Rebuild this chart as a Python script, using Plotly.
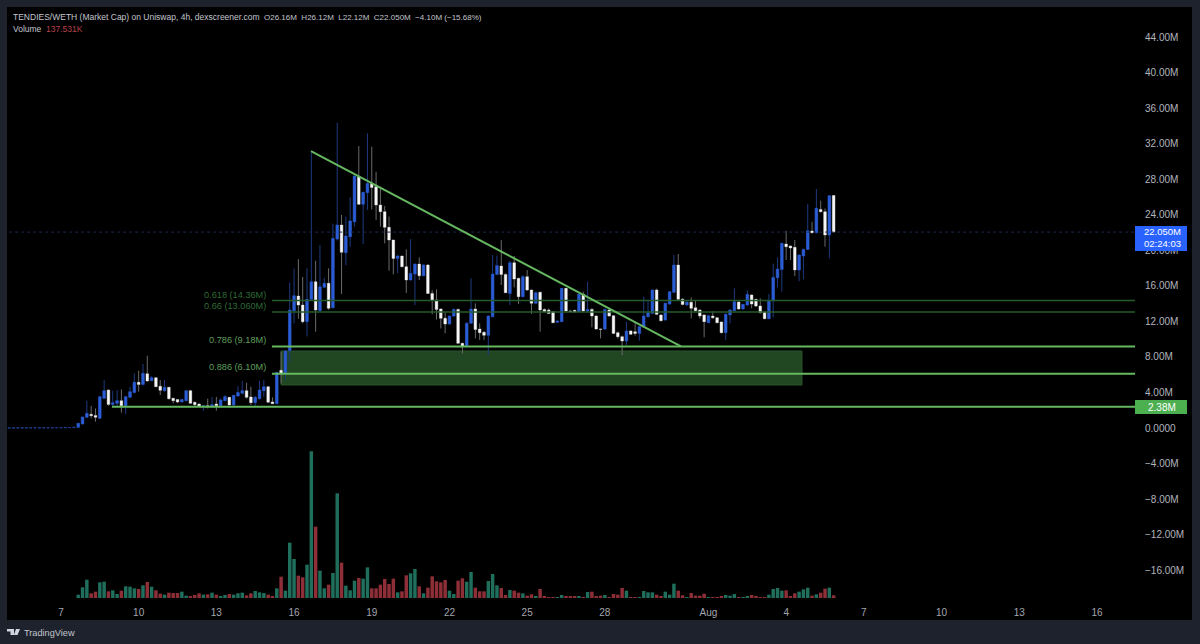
import pandas as pd
import plotly.graph_objects as go

# 4h candles in millions of market cap, Jul 5 00:00 onward
opens = [
    .02, .02, .02, .02, .02, .03, .03, .03, .03, .03, .03, .04, .04, .04, .05, .05,
    .08, .45, 1.2, 1.54, 1.42, 1.09, 3.34, 4.28, 2.66, 2.78, 3.08, 2.5, 3.45, 4.0, 5.14, 4.9,
    6.1, 5.33, 5.66, 4.7, 4.2, 4.58, 3.34, 3.2, 2.93, 3.08, 4.2, 2.9, 2.7, 2.4, 2.5, 2.48,
    2.7, 2.5, 3.08, 3.45, 2.6, 3.6, 3.9, 4.2, 3.5, 2.85, 3.3, 4.2, 4.65, 2.93, 2.74, 6.5,
    6.15, 8.7, 13.2, 14.85, 13.84, 11.97, 14.48, 16.47, 13.2, 15.83, 16.28, 13.54, 21.27, 22.84, 19.73, 21.53,
    23.2, 28.28, 25.17, 26.48, 27.53, 27.16, 25.09, 24.34, 22.58, 21.15, 19.09, 19.35, 18.15, 16.65, 17.33, 18.45,
    17.14, 18.34, 15.15, 14.4, 13.39, 12.34, 11.7, 12.6, 13.35, 9.53, 9.15, 11.78, 13.39, 11.14, 10.77, 10.43,
    12.53, 17.29, 18.23, 17.29, 15.15, 18.6, 16.84, 14.78, 17.03, 15.53, 14.03, 15.27, 13.35, 13.28, 13.09, 11.89,
    11.97, 15.72, 13.17, 13.24, 13.09, 15.04, 13.17, 13.35, 12.6, 11.14, 11.14, 13.28, 12.64, 10.73, 10.28, 9.79,
    10.92, 10.84, 10.65, 11.4, 12.53, 12.9, 15.53, 12.72, 12.15, 13.95, 15.27, 18.34, 14.5, 13.84, 14.14, 13.54,
    13.28, 12.72, 11.85, 12.6, 12.42, 11.93, 10.73, 12.72, 13.2, 14.18, 13.39, 13.84, 14.97, 14.48, 13.73, 13.05,
    12.3, 14.33, 16.92, 17.85, 20.7, 20.48, 20.33, 17.78, 19.35, 20.1, 22.17, 21.98, 24.6, 24.34, 21.72, 26.16,
]
highs = [
    .03, .03, .03, .03, .03, .04, .04, .04, .04, .04, .05, .05, .05, .06, .06, .09,
    .55, 1.26, 3.08, 2.5, 2.2, 3.6, 5.4, 4.3, 4.2, 4.28, 4.35, 3.6, 4.65, 6.15, 6.45, 7.2,
    8.14, 5.85, 5.7, 5.4, 5.4, 4.6, 3.4, 3.25, 3.25, 4.28, 4.3, 2.95, 2.75, 2.55, 3.3, 3.5,
    3.5, 3.34, 3.7, 3.5, 3.7, 4.7, 5.3, 5.1, 4.65, 3.6, 5.3, 5.4, 4.7, 3.45, 6.3, 8.6,
    8.7, 16.35, 17.97, 19.0, 17.0, 17.97, 31.0, 18.83, 20.6, 16.9, 17.97, 23.0, 34.36, 23.97, 23.78, 25.96,
    28.45, 31.73, 26.6, 33.16, 31.66, 28.84, 27.16, 24.98, 23.8, 21.2, 19.5, 19.4, 20.1, 21.27, 18.5, 19.2,
    18.45, 18.45, 15.5, 15.6, 13.45, 13.1, 12.65, 13.47, 13.45, 9.6, 11.95, 16.84, 14.03, 11.78, 10.9, 12.7,
    19.47, 19.35, 21.16, 17.4, 18.83, 19.35, 16.9, 17.2, 17.78, 15.6, 15.35, 15.35, 13.45, 13.45, 13.15, 12.1,
    15.75, 15.75, 13.3, 13.3, 15.15, 15.35, 16.47, 13.5, 12.7, 11.2, 13.45, 13.45, 12.7, 10.85, 10.4, 11.97,
    11.03, 11.78, 11.45, 14.78, 14.4, 15.6, 15.7, 12.8, 14.1, 15.42, 19.47, 19.58, 14.6, 14.25, 14.7, 14.4,
    13.35, 12.78, 12.72, 13.17, 12.5, 11.97, 12.9, 13.35, 15.72, 14.25, 13.95, 15.53, 15.05, 14.55, 14.6, 13.1,
    15.08, 18.5, 19.2, 20.85, 22.2, 20.55, 21.16, 19.55, 20.2, 25.2, 23.2, 26.9, 25.58, 24.7, 26.2, 26.2,
]
lows = [
    .01, .01, .01, .01, .01, .02, .02, .02, .02, .02, .02, .03, .03, .03, .04, .04,
    .05, .42, 1.1, 1.09, .71, 1.0, 3.3, 2.5, 2.4, 2.4, 1.73, 1.58, 3.4, 3.9, 4.09, 4.8,
    5.2, 5.3, 4.6, 3.7, 4.1, 3.2, 2.78, 2.8, 2.9, 3.0, 2.7, 2.5, 2.4, 1.95, 2.2, 2.3,
    1.95, 2.45, 3.0, 2.5, 2.4, 3.5, 3.8, 3.3, 2.6, 2.48, 3.2, 3.5, 2.85, 2.7, 2.7, 5.0,
    5.4, 7.46, 11.78, 12.3, 11.8, 10.3, 14.4, 10.84, 13.1, 15.8, 13.3, 13.45, 21.1, 15.08, 18.34, 20.4,
    22.66, 25.1, 20.7, 24.53, 24.6, 23.4, 22.66, 20.78, 17.7, 17.3, 17.4, 18.1, 15.2, 16.6, 13.84, 16.65,
    17.1, 15.1, 12.8, 12.2, 11.2, 10.65, 11.65, 12.55, 9.5, 8.4, 9.1, 13.3, 10.09, 9.9, 9.9, 8.2,
    12.45, 17.2, 16.1, 15.2, 13.84, 15.83, 13.95, 14.7, 15.45, 12.83, 13.95, 10.84, 13.05, 12.85, 11.8, 11.85,
    11.9, 13.1, 13.05, 13.0, 13.0, 13.1, 13.1, 11.33, 11.05, 10.09, 11.05, 12.55, 10.6, 10.09, 8.2, 9.34,
    10.5, 10.4, 9.83, 11.35, 12.45, 12.85, 12.7, 11.98, 12.08, 13.9, 15.2, 14.4, 13.8, 13.8, 12.34, 13.1,
    12.3, 10.2, 11.8, 12.3, 11.8, 10.65, 9.9, 11.78, 13.15, 13.3, 13.35, 13.8, 13.47, 13.6, 12.9, 12.25,
    12.25, 12.45, 15.83, 15.34, 18.9, 18.9, 17.1, 16.54, 16.73, 20.05, 21.9, 21.9, 24.25, 20.4, 19.09, 22.0,
]
closes = [
    .02, .02, .02, .02, .03, .03, .03, .03, .03, .03, .04, .04, .04, .05, .05, .08,
    .53, 1.24, 1.65, 1.39, 1.2, 3.53, 4.2, 2.66, 2.85, 3.08, 2.5, 3.53, 4.09, 5.14, 4.9, 6.15,
    5.3, 5.66, 4.65, 4.24, 4.58, 3.3, 3.08, 2.93, 3.2, 4.2, 2.78, 2.63, 2.48, 2.5, 2.42, 2.63,
    2.5, 3.15, 3.53, 2.6, 3.68, 4.0, 4.2, 3.45, 2.85, 3.45, 4.28, 4.65, 2.9, 2.74, 6.26, 6.2,
    8.66, 13.28, 14.89, 13.84, 11.97, 14.48, 16.47, 13.28, 15.9, 16.28, 13.47, 21.34, 22.84, 19.77, 21.6, 23.3,
    28.36, 25.17, 26.52, 27.53, 27.08, 25.09, 24.34, 22.58, 21.15, 19.09, 19.35, 18.15, 16.65, 17.4, 18.45, 17.14,
    18.34, 15.15, 14.4, 13.35, 12.34, 11.7, 12.6, 13.35, 9.53, 9.15, 11.78, 13.39, 11.1, 10.73, 10.43, 12.6,
    17.33, 18.27, 17.29, 15.23, 18.6, 16.77, 14.78, 17.03, 15.53, 14.03, 15.23, 13.28, 13.09, 12.9, 11.85, 12.04,
    15.72, 13.17, 13.09, 13.05, 15.04, 13.17, 13.35, 12.6, 11.14, 11.1, 13.35, 12.6, 10.65, 10.28, 9.79, 10.92,
    10.54, 10.65, 11.4, 12.6, 13.0, 15.53, 12.79, 12.08, 14.03, 15.34, 18.34, 14.48, 13.9, 14.18, 13.47, 13.2,
    12.6, 11.97, 12.64, 12.4, 11.85, 10.73, 12.79, 13.28, 14.22, 13.39, 13.92, 15.04, 13.95, 13.73, 12.98, 12.3,
    14.33, 16.95, 17.89, 20.78, 20.4, 20.26, 17.78, 19.47, 20.1, 22.2, 21.98, 24.72, 24.34, 21.72, 26.14, 22.05,
]
# volume in thousands
volumes = [
    0, 0, 0, 0, 0, 0, 0, 0, 0, 0, 0, 0, 0, 0, 0, 0,
    200, 640, 1100, 280, 380, 940, 980, 400, 460, 240, 440, 700, 680, 580, 540, 760,
    960, 680, 460, 260, 200, 320, 300, 300, 380, 140, 100, 180, 280, 200, 220, 320,
    200, 80, 180, 240, 200, 280, 320, 160, 280, 420, 340, 300, 200, 120, 580, 1280,
    440, 3320, 2340, 1340, 1240, 2000, 8800, 4280, 1640, 580, 800, 1500, 6280, 2120, 740, 460,
    1040, 1200, 1160, 1840, 580, 580, 800, 1140, 840, 1160, 340, 400, 1360, 1480, 1740, 700,
    280, 620, 1300, 1000, 940, 1080, 440, 240, 1040, 1180, 980, 1560, 620, 400, 400, 1020,
    1440, 760, 600, 180, 480, 440, 320, 280, 140, 220, 100, 540, 100, 60, 60, 40,
    180, 100, 100, 80, 120, 60, 360, 380, 120, 140, 180, 40, 240, 200, 600, 440,
    60, 60, 60, 420, 340, 340, 200, 100, 380, 200, 860, 440, 160, 60, 300, 140,
    140, 260, 40, 40, 60, 80, 180, 140, 240, 40, 60, 120, 180, 80, 60, 60,
    200, 540, 600, 440, 460, 100, 280, 380, 520, 620, 140, 220, 320, 560, 620, 160,
]
times = pd.date_range("2024-07-05 00:00", periods=len(opens), freq="4h")

price_ticks = [-16, -12, -8, -4, 0, 4, 8, 12, 16, 20, 24, 28, 32, 36, 40, 44]
price_labels = ["−16.00M", "−12.00M", "−8.00M", "−4.00M", "0.0000", "4.00M", "8.00M", "12.00M",
                "16.00M", "20.00M", "24.00M", "28.00M", "32.00M", "36.00M", "40.00M", "44.00M"]
time_ticks = ["2024-07-07", "2024-07-10", "2024-07-13", "2024-07-16", "2024-07-19", "2024-07-22",
              "2024-07-25", "2024-07-28", "2024-08-01", "2024-08-04", "2024-08-07", "2024-08-10",
              "2024-08-13", "2024-08-16"]
time_labels = ["7", "10", "13", "16", "19", "22", "25", "28", "Aug", "4", "7", "10", "13", "16"]

last_price = 22.05
fib_dark = [14.36, 13.06]
fib_bright = [9.18, 6.10]
support = 2.38
zone_top, zone_bottom = 8.67, 4.84
trend_y = [31.17, 9.18]

BG = "#1e222d"
BLUE = "#2a5cd6"
WHITE = "#f6f6f6"
BRIGHT_GREEN = "#66b860"
DARK_GREEN = "#245c2c"

# page pixels to paper coordinates of the plot area
L, R, T, B = 7, 65, 7, 46
W, H = 1200, 644
def px(x):
    return (x - L) / (W - L - R)
def py(y):
    return (H - B - y) / (H - T - B)

body_low = [min(o, c) for o, c in zip(opens, closes)]
body_high = [max(o, c) for o, c in zip(opens, closes)]
vol_colors = ["#1f6f5c" if c >= o else "#8e2f38" for o, c in zip(opens, closes)]

fig = go.Figure()
# dim wicks first, bright bodies on top
fig.add_trace(go.Candlestick(
    x=times, open=opens, high=highs, low=lows, close=closes,
    increasing=dict(line=dict(color="#1d3a80", width=1), fillcolor="#1d3a80"),
    decreasing=dict(line=dict(color="#6a6a6a", width=1), fillcolor="#6a6a6a"),
    hoverinfo="skip", showlegend=False))
fig.add_trace(go.Candlestick(
    x=times, open=opens, high=body_high, low=body_low, close=closes,
    increasing=dict(line=dict(color=BLUE, width=0), fillcolor=BLUE),
    decreasing=dict(line=dict(color=WHITE, width=0), fillcolor=WHITE),
    hoverinfo="skip", showlegend=False))
fig.add_trace(go.Bar(x=times, y=volumes, marker=dict(color=vol_colors, line_width=0),
                     yaxis="y2", hoverinfo="skip", showlegend=False))

fig.update_layout(
    width=W, height=H,
    margin=dict(l=L, r=R, t=T, b=B),
    paper_bgcolor=BG, plot_bgcolor="#000000",
    bargap=0.2, boxgap=0.15,
    font=dict(family="Liberation Sans, Arial, sans-serif", color="#b2b5be", size=10),
    xaxis=dict(type="date", range=["2024-07-04 22:00", "2024-08-17 11:15"],
               rangeslider=dict(visible=False), showgrid=False, zeroline=False, showline=False,
               tickmode="array", tickvals=time_ticks, ticktext=time_labels,
               ticks="outside", ticklen=5, tickcolor="rgba(0,0,0,0)",
               tickfont=dict(color="#a3a6af", size=10)),
    yaxis=dict(range=[-19.13, 47.38], side="right", showgrid=False, zeroline=False, showline=False,
               tickmode="array", tickvals=price_ticks, ticktext=price_labels,
               ticks="outside", ticklen=7, tickcolor="rgba(0,0,0,0)",
               tickfont=dict(color="#b2b5be", size=10)),
    yaxis2=dict(overlaying="y", range=[0, 35460], visible=False),
)

# black chart frame behind everything
fig.add_shape(type="rect", xref="paper", yref="paper", x0=px(7), x1=px(1192), y0=py(620), y1=py(7),
              fillcolor="#000000", line_width=0, layer="below")
# demand zone
fig.add_shape(type="rect", x0="2024-07-15 12:00", x1="2024-08-04 14:40", y0=zone_bottom, y1=zone_top,
              fillcolor="#214622", line=dict(color="#2a542b", width=1), layer="below")
# levels
fig.add_shape(type="line", x0=times[0], x1="2024-08-17 11:15", y0=last_price, y1=last_price,
              line=dict(color="#1c2a52", width=1, dash="dot"))
for lvl in fib_dark:
    fig.add_shape(type="line", x0="2024-07-15 03:30", x1="2024-08-17 11:15", y0=lvl, y1=lvl,
                  line=dict(color=DARK_GREEN, width=1.5))
for lvl in fib_bright:
    fig.add_shape(type="line", x0="2024-07-15 03:30", x1="2024-08-17 11:15", y0=lvl, y1=lvl,
                  line=dict(color=BRIGHT_GREEN, width=2))
fig.add_shape(type="line", x0="2024-07-08 23:15", x1="2024-08-17 11:15", y0=support, y1=support,
              line=dict(color=BRIGHT_GREEN, width=2))
fig.add_shape(type="line", x0="2024-07-16 15:40", x1="2024-07-30 22:30", y0=trend_y[0], y1=trend_y[1],
              line=dict(color=BRIGHT_GREEN, width=2))

# axis plates
fig.add_shape(type="rect", xref="paper", yref="paper", x0=px(1135), x1=px(1187), y0=py(251), y1=py(226),
              fillcolor="#2962ff", line_width=0)
fig.add_shape(type="rect", xref="paper", yref="paper", x0=px(1135), x1=px(1187), y0=py(414), y1=py(400),
              fillcolor="#4caf50", line_width=0)

# TradingView logo
for path in [
    [(7, 629), (14, 629), (14, 635), (10.5, 635), (10.5, 631.5), (7, 631.5)],
    [(16, 629), (20, 629), (17.5, 635), (13.8, 635)],
]:
    d = "M" + " L".join(f"{px(x)},{py(y)}" for x, y in path) + " Z"
    fig.add_shape(type="path", xref="paper", yref="paper", path=d, fillcolor="#d1d4dc", line_width=0)

def label(x, y, text, color, size=10, anchor="left"):
    fig.add_annotation(xref="paper", yref="paper", x=px(x), y=py(y), text=text, showarrow=False,
                       xanchor=anchor, yanchor="middle", font=dict(color=color, size=size),
                       borderpad=0, align=anchor)

label(12, 17, "TENDIES/WETH (Market Cap) on Uniswap, 4h, dexscreener.com", "#c3c6ce", 8.5)
label(263, 17, "O26.16M&nbsp;&nbsp;H26.12M&nbsp;&nbsp;L22.12M&nbsp;&nbsp;C22.050M&nbsp;&nbsp;−4.10M (−15.68%)", "#c3c6ce", 8)
label(12, 29, "Volume&nbsp;&nbsp;<span style='color:#b5414b'>137.531K</span>", "#c3c6ce", 8.5)
label(267, 295, "0.618 (14.36M)", "#2f6a35", 9.2, "right")
label(267, 306, "0.66 (13.060M)", "#2f6a35", 9.2, "right")
label(267, 340, "0.786 (9.18M)", "#5f9f5c", 9.2, "right")
label(267, 367, "0.886 (6.10M)", "#5f9f5c", 9.2, "right")
label(1162, 238, "22.050M<br>02:24:03", "#ffffff", 9.5, "center")
label(1162, 407, "2.38M", "#ffffff", 10, "center")
label(23, 633, "TradingView", "#c3c6ce", 9.2)

# page default margin would shift the figure by 8px
fig.write_html("out.html", config=dict(displayModeBar=False), post_script="document.body.style.margin='0';")
